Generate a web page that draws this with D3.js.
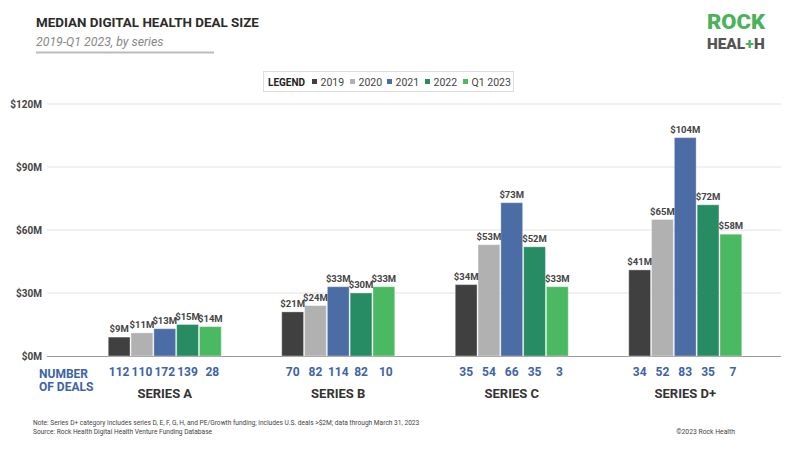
<!DOCTYPE html>
<html><head><meta charset="utf-8">
<script src="https://cdn.jsdelivr.net/npm/d3@7"></script>
<style>body{margin:0;background:#fff;font-family:Roboto,"Noto Sans",sans-serif}</style>
</head><body><svg id="c" width="800" height="450" font-family="Roboto"></svg>
<script>
const categories = ["SERIES A","SERIES B","SERIES C","SERIES D+"];
const years = ["2019","2020","2021","2022","Q1 2023"];
const v2019 = [9,21,34,41];
const v2020 = [11,24,53,65];
const v2021 = [13,33,73,104];
const v2022 = [15,30,52,72];
const vQ1 = [14,33,33,58];
const deals2019 = [112,70,35,34];
const deals2020 = [110,82,54,52];
const deals2021 = [172,114,66,83];
const deals2022 = [139,82,35,35];
const dealsQ1 = [28,10,3,7];
const yTicks = [0,30,60,90,120];
const colors = ["#404040","#b1b1b1","#4b6ca4","#278c63","#4bb862"];

const values = [v2019,v2020,v2021,v2022,vQ1];
const deals = [deals2019,deals2020,deals2021,deals2022,dealsQ1];

const svg = d3.select("#c");
const y = d3.scaleLinear().domain([0,120]).range([356,104]);
const x0 = d3.scaleBand().domain(categories).range([78,772]).padding(0);
const gw = 114;
const x1 = d3.scaleBand().domain(years).range([0,gw]).padding(0);

// gridlines
svg.append("g").selectAll("line").data(yTicks.filter(d=>d>0)).join("line")
  .attr("x1",47).attr("x2",781).attr("y1",d=>y(d)).attr("y2",d=>y(d))
  .attr("stroke","#e2e2e2").attr("stroke-width",1);
svg.append("line").attr("x1",47).attr("x2",781).attr("y1",y(0)+0.5).attr("y2",y(0)+0.5)
  .attr("stroke","#9a9a9a").attr("stroke-width",1);
const yAxis = d3.axisLeft(y).tickValues(yTicks).tickSize(0).tickFormat(d=>"$"+d+"M");
const ya = svg.append("g").attr("transform","translate(42,0)").call(yAxis);
ya.select(".domain").remove();
ya.selectAll("text").attr("x",0).attr("font-family","Roboto").attr("font-size",10)
  .attr("font-weight","bold").attr("fill","#444");

// bars
const groups = svg.append("g").selectAll("g").data(categories).join("g")
  .attr("transform",c=>`translate(${x0(c)+(x0.bandwidth()-gw)/2},0)`);
groups.each(function(c,ci){
  const g = d3.select(this);
  const data = years.map((yr,i)=>({yr,i,v:values[i][ci],n:deals[i][ci]}));
  g.selectAll("rect").data(data).join("rect")
    .attr("x",d=>x1(d.yr)+0.5).attr("width",x1.bandwidth()-1)
    .attr("y",d=>y(d.v)).attr("height",d=>y(0)-y(d.v))
    .attr("fill",d=>colors[d.i]).attr("stroke","#ffffff").attr("stroke-opacity",0.35).attr("stroke-width",1);
  g.selectAll("text.lbl").data(data).join("text").attr("class","lbl")
    .attr("x",d=>x1(d.yr)+x1.bandwidth()/2).attr("y",d=>y(d.v)-5)
    .attr("text-anchor","middle").attr("font-size",9.5).attr("font-weight","bold")
    .attr("fill","#444").text(d=>"$"+d.v+"M");
  g.selectAll("text.n").data(data).join("text").attr("class","n")
    .attr("x",d=>x1(d.yr)+x1.bandwidth()/2+ (d.i===4?2:0)).attr("y",376)
    .attr("text-anchor","middle").attr("font-size",12).attr("font-weight","bold")
    .attr("fill","#3e63a6").text(d=>d.n);
  g.append("text").attr("x",gw/2).attr("y",398).attr("text-anchor","middle")
    .attr("font-size",13).attr("font-weight","bold").attr("fill","#333").text(c);
});

// number of deals label
svg.append("text").attr("x",39).attr("y",378).attr("font-size",12).attr("font-weight","bold")
  .attr("fill","#3e63a6").text("NUMBER");
svg.append("text").attr("x",39).attr("y",391).attr("font-size",12).attr("font-weight","bold")
  .attr("fill","#3e63a6").text("OF DEALS");

// title
svg.append("text").attr("x",36).attr("y",27).attr("font-size",13.4).attr("font-weight","bold")
  .attr("fill","#2b2b2b").text("MEDIAN DIGITAL HEALTH DEAL SIZE");
svg.append("text").attr("x",36).attr("y",46).attr("font-size",12.3).attr("font-style","italic")
  .attr("fill","#888").text("2019-Q1 2023, by series");
svg.append("line").attr("x1",36).attr("x2",214).attr("y1",52.5).attr("y2",52.5)
  .attr("stroke","#bbb").attr("stroke-width",2);

// logo
svg.append("text").attr("x",707).attr("y",28.8).attr("font-size",20).attr("font-weight","900")
  .attr("fill","#4bb15a").attr("textLength",58).attr("lengthAdjust","spacingAndGlyphs").text("ROCK");
const parts = [["HEAL","#555"],["+","#4bb15a"],["H","#555"]];
let px = 707;
const tmp = [];
parts.forEach(([t,col])=>{
  const el = svg.append("text").attr("x",px).attr("y",48.6).attr("font-size",15.5).attr("font-weight","900")
    .attr("fill",col).text(t);
  tmp.push(el);
  px += el.node().getComputedTextLength() + 0.3;
});
const total = px - 707;
const sc = 58/total;
let acc = 707;
tmp.forEach(el=>{
  const w = el.node().getComputedTextLength();
  el.attr("x",acc).attr("textLength",w*sc).attr("lengthAdjust","spacingAndGlyphs");
  acc += (w+0.3)*sc;
});

// legend
const lg = svg.append("g");
lg.append("rect").attr("x",263.5).attr("y",71.5).attr("width",250).attr("height",20)
  .attr("fill","#fff").attr("stroke","#ddd");
lg.append("text").attr("x",268).attr("y",86).attr("font-size",10).attr("font-weight","bold")
  .attr("fill","#222").text("LEGEND");
const lx = [312,350,387,425,463];
years.forEach((yr,i)=>{
  lg.append("rect").attr("x",lx[i]).attr("y",79).attr("width",5).attr("height",5).attr("fill",colors[i]);
  lg.append("text").attr("x",lx[i]+8.5).attr("y",86).attr("font-size",10.5).attr("fill","#444").text(yr);
});

// footnotes
svg.append("text").attr("x",33).attr("y",425).attr("font-size",6.6).attr("fill","#444")
  .text("Note: Series D+ category includes series D, E, F, G, H, and PE/Growth funding; includes U.S. deals >$2M; data through March 31, 2023");
svg.append("text").attr("x",33).attr("y",434).attr("font-size",6.6).attr("fill","#444")
  .text("Source: Rock Health Digital Health Venture Funding Database");
svg.append("text").attr("x",735).attr("y",434).attr("text-anchor","end").attr("font-size",6.8).attr("fill","#444")
  .text("©2023 Rock Health");
</script></body></html>
